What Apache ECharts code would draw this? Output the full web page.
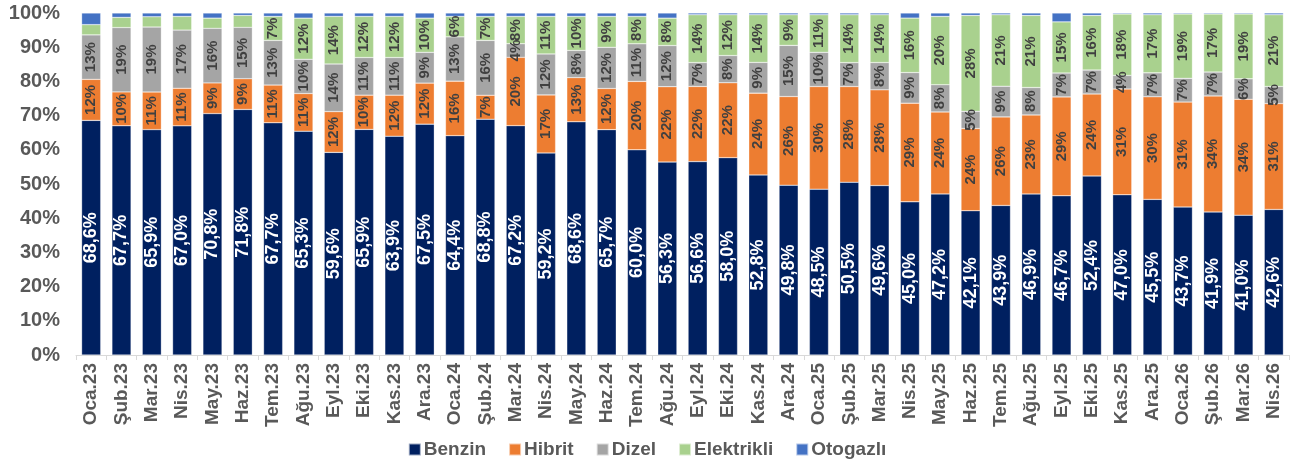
<!DOCTYPE html>
<html>
<head>
<meta charset="utf-8">
<script src="https://cdn.jsdelivr.net/npm/echarts@6/dist/echarts.min.js"></script>
<style>
  html, body { margin: 0; padding: 0; background: #fff; }
  #chart { width: 1294px; height: 467px; }
</style>
</head>
<body>
<div id="chart"></div>
<script>
// Aylık satış payları (%) - yakıt türüne göre
const months = ['Oca.23','Şub.23','Mar.23','Nis.23','May.23','Haz.23','Tem.23','Ağu.23','Eyl.23','Eki.23',
    'Kas.23','Ara.23','Oca.24','Şub.24','Mar.24','Nis.24','May.24','Haz.24','Tem.24','Ağu.24',
    'Eyl.24','Eki.24','Kas.24','Ara.24','Oca.25','Şub.25','Mar.25','Nis.25','May.25','Haz.25',
    'Tem.25','Ağu.25','Eyl.25','Eki.25','Kas.25','Ara.25','Oca.26','Şub.26','Mar.26','Nis.26'];

const benzin = [68.6, 67.7, 65.9, 67.0, 70.8, 71.8, 67.7, 65.3, 59.6, 65.9,
    63.9, 67.5, 64.4, 68.8, 67.2, 59.2, 68.6, 65.7, 60.0, 56.3,
    56.6, 58.0, 52.8, 49.8, 48.5, 50.5, 49.6, 45.0, 47.2, 42.1,
    43.9, 46.9, 46.7, 52.4, 47.0, 45.5, 43.7, 41.9, 41.0, 42.6];

const hibrit = [12, 10, 11, 11, 9, 9, 11, 11, 12, 10,
    12, 12, 16, 7, 20, 17, 13, 12, 20, 22,
    22, 22, 24, 26, 30, 28, 28, 29, 24, 24,
    26, 23, 29, 24, 31, 30, 31, 34, 34, 31];

const dizel = [13, 19, 19, 17, 16, 15, 13, 10, 14, 11,
    11, 9, 13, 16, 4, 12, 8, 12, 11, 12,
    7, 8, 9, 15, 10, 7, 8, 9, 8, 5,
    9, 8, 7, 7, 4, 7, 7, 7, 6, 5];

const elektrikli = [3, 3, 3, 4, 3, 3.5, 7, 12, 14, 12,
    12, 10, 6, 7, 8, 11, 10, 9, 8, 8,
    14, 12, 14, 9, 11, 14, 14, 16, 20, 28,
    21, 21, 15, 16, 18, 17, 19, 17, 19, 21];

const otogazli = [3.4, 1.3, 1.1, 1.0, 1.5, 0.7, 1.0, 1.5, 1.0, 1.0,
    1.0, 1.5, 1.0, 1.0, 1.0, 1.0, 1.0, 1.0, 1.0, 1.5,
    0.5, 0.5, 0.5, 0.5, 0.5, 0.5, 0.5, 1.5, 1.0, 0.7,
    0.5, 0.7, 2.6, 0.7, 0.3, 0.5, 0.3, 0.3, 0.3, 0.5];

const seriesNames = ['Benzin', 'Hibrit', 'Dizel', 'Elektrikli', 'Otogazlı'];
const seriesData = [benzin, hibrit, dizel, elektrikli, otogazli];
const colors = ['#002060', '#ED7D31', '#A5A5A5', '#A9D18E', '#4472C4'];

// etiketler yuvarlanmış, toplamı 100'e ölçekle
const totals = months.map((m, i) => seriesData.reduce((s, arr) => s + arr[i], 0));

const FONT = '"Liberation Sans", Arial, sans-serif';
const GRAY = '#595959';

const chart = echarts.init(document.getElementById('chart'));

const series = seriesNames.map((name, k) => {
    const raw = seriesData[k];
    let label = { show: false };
    if (k < 4) {
        label = {
            show: true,
            position: 'inside',
            rotate: 90,
            fontFamily: FONT,
            fontWeight: 'bold',
            fontSize: k === 0 ? 18 : 15,
            color: k === 0 ? '#ffffff' : '#404040',
            formatter: p => {
                const v = raw[p.dataIndex];
                if (k === 0) return v.toFixed(1).replace('.', ',') + '%';
                // yeşil küçük dilimlerde etiket yok
                if (k === 3 && v < 5) return '';
                return v + '%';
            }
        };
    }
    return {
        name: name,
        type: 'bar',
        stack: 'pay',
        barCategoryGap: '37%',
        itemStyle: { color: colors[k], borderColor: 'rgba(255,255,255,0.6)', borderWidth: 0.5 },
        label: label,
        data: raw.map((v, i) => v / totals[i] * 100)
    };
});

chart.setOption({
    animation: false,
    textStyle: { fontFamily: FONT },
    legend: {
        bottom: 3,
        left: 'center',
        itemWidth: 12,
        itemHeight: 12,
        itemGap: 22,
        icon: 'rect',
        textStyle: { fontFamily: FONT, fontWeight: 'bold', fontSize: 19, color: GRAY, padding: [0, 0, 0, -2] },
        data: seriesNames
    },
    grid: { left: 76, right: 5, top: 13, bottom: 112 },
    xAxis: {
        type: 'category',
        data: months,
        axisLine: { lineStyle: { color: '#D9D9D9' } },
        axisTick: { show: true, length: 5, lineStyle: { color: '#D9D9D9' } },
        axisLabel: {
            rotate: 90,
            interval: 0,
            margin: 8,
            fontFamily: FONT,
            fontWeight: 'bold',
            fontSize: 19,
            color: GRAY
        }
    },
    yAxis: {
        type: 'value',
        min: 0,
        max: 100,
        interval: 10,
        splitLine: { show: false },
        axisLine: { show: false },
        axisLabel: {
            formatter: '{value}%',
            fontFamily: FONT,
            fontWeight: 'bold',
            fontSize: 20,
            color: GRAY,
            margin: 16
        }
    },
    series: series
});
</script>
</body>
</html>
